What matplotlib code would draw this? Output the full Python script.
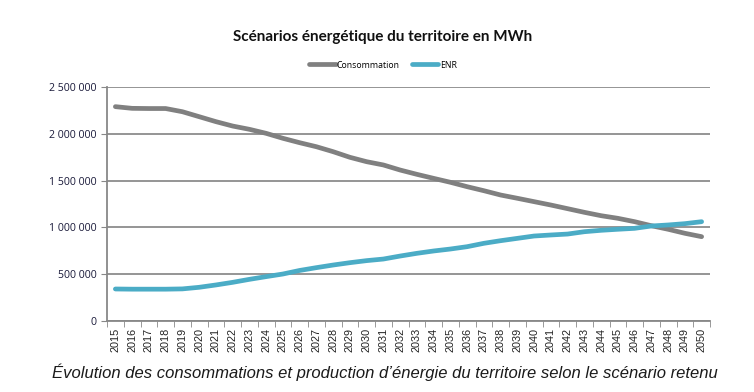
import matplotlib
matplotlib.use("Agg")
import matplotlib.pyplot as plt
from matplotlib.ticker import FuncFormatter

years = list(range(2015, 2051))
consommation = [2290000, 2272000, 2270000, 2270000, 2236000, 2183000, 2130000, 2083000,
                2048000, 2005000, 1952000, 1905000, 1862000, 1809000, 1749000, 1702000,
                1667000, 1613000, 1567000, 1524000, 1482000, 1435000, 1392000, 1346000,
                1311000, 1275000, 1239000, 1200000, 1161000, 1125000, 1097000, 1061000,
                1018000, 980000, 937000, 901000]
enr = [342000, 340000, 340000, 340000, 343000, 360000, 385000, 413000,
       445000, 474000, 502000, 540000, 570000, 598000, 623000, 645000,
       662000, 694000, 723000, 748000, 769000, 794000, 830000, 858000,
       883000, 908000, 919000, 929000, 954000, 969000, 980000, 990000,
       1015000, 1026000, 1040000, 1061000]
yticks = [0, 500000, 1000000, 1500000, 2000000, 2500000]

fig = plt.figure(figsize=(7.54, 3.92), dpi=100)
ax = fig.add_axes([107/754, 1-321/392, (710-107)/754, (321-87)/392])

ax.plot(years, consommation, color="#808080", lw=3.4, label="Consommation", solid_capstyle="round")
ax.plot(years, enr, color="#4BACC6", lw=3.4, label="ENR", solid_capstyle="round")

ax.set_xlim(2014.5, 2050.5)
ax.set_ylim(0, 2500000)
ax.set_yticks(yticks)
ax.yaxis.set_major_formatter(FuncFormatter(lambda v, p: f"{int(v):,}".replace(",", " ")))
ax.set_xticks(years)
ax.set_xticklabels([str(y) for y in years], rotation=90, fontsize=7.8, family="Liberation Sans", color="#222222")
ax.tick_params(axis="y", labelsize=7.6, colors="#1a1a3a", length=4, color="#888888")
ax.set_xticks([y - 0.5 for y in years] + [2050.5], minor=True)
ax.tick_params(axis="x", which="major", length=0, pad=5)
ax.tick_params(axis="x", which="minor", length=4, color="#888888")
for lab in ax.get_yticklabels():
    lab.set_family("Open Sans")

ax.grid(axis="y", color="#8c8c8c", lw=1.3)
ax.set_axisbelow(True)
for s in ["top", "right"]:
    ax.spines[s].set_visible(False)
ax.spines["left"].set_color("#888888")
ax.spines["bottom"].set_color("#888888")
ax.spines["left"].set_linewidth(1.3)
ax.spines["bottom"].set_linewidth(1.3)

fig.text(383/754, 1-37/392, "Scénarios énergétique du territoire en MWh", ha="center", va="center",
         fontsize=11, fontweight="bold", family="Lato", color="#111111")
leg = fig.legend(loc="center", bbox_to_anchor=(0.508, 1-65/392), ncol=2, frameon=False,
                 handlelength=3, columnspacing=1.4, handletextpad=0.15,
                 prop={"family": "Open Sans", "size": 6.3})
fig.text(384.5/754, 1-372/392, "Évolution des consommations et production d’énergie du territoire selon le scénario retenu",
         ha="center", va="center", fontsize=12, style="italic", family="Liberation Sans", color="#1a1a1a")

fig.savefig("out.png", dpi=100)
